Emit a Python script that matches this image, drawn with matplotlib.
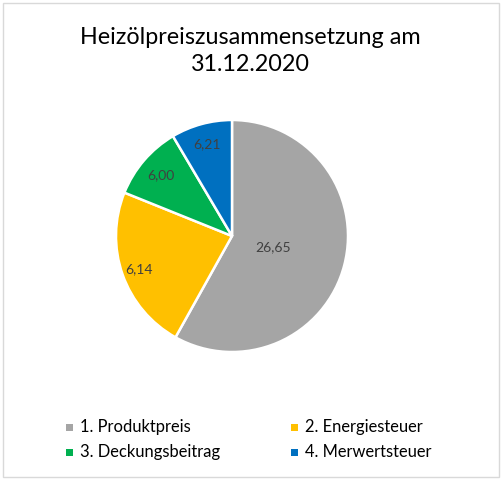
import matplotlib
matplotlib.use("Agg")
import matplotlib.pyplot as plt
import numpy as np
from matplotlib.patches import Rectangle

title = "Heizölpreiszusammensetzung am\n31.12.2020"
categories = ["1. Produktpreis", "2. Energiesteuer", "3. Deckungsbeitrag", "4. Merwertsteuer"]
# slice shares as drawn in the reference (percent of the circle)
slice_shares = [58.1, 23.0, 10.4, 8.5]
# data labels as printed in the reference
value_labels = ["26,65", "6,14", "6,00", "6,21"]
colors = ["#A5A5A5", "#FFC000", "#00B050", "#0070C0"]
label_radius = [0.37, 0.85, 0.81, 0.82]

plt.rcParams['font.family'] = ['Lato', 'DejaVu Sans']

W, H = 503, 480
fig = plt.figure(figsize=(W / 100, H / 100), dpi=100)
fig.patch.set_facecolor("white")

# border
fig.patches.append(Rectangle((2.5 / W, 1 - 476.5 / H), (499 - 2.5) / W, (476.5 - 2.5) / H,
                             transform=fig.transFigure, fill=False, edgecolor="#D9D9D9", linewidth=1.0))

fig.text(250 / W, 1 - 51 / H, title, ha="center", va="center", fontsize=16.8,
         color="#000000", linespacing=1.3)

cx, cy, r = 232, 236, 116
ax = fig.add_axes([(cx - r) / W, 1 - (cy + r) / H, 2 * r / W, 2 * r / H])
wedges, _ = ax.pie(slice_shares, colors=colors, startangle=90, counterclock=False,
                   wedgeprops=dict(edgecolor="white", linewidth=1.8), radius=1.0)
ax.set_xlim(-1, 1)
ax.set_ylim(-1, 1)
ax.set_aspect("equal")
ax.axis("off")

for w, lab, rr in zip(wedges, value_labels, label_radius):
    ang = np.deg2rad((w.theta1 + w.theta2) / 2)
    ax.text(rr * np.cos(ang), rr * np.sin(ang), lab, ha="center", va="center",
            fontsize=10, color="#404040")

# legend
leg_x = [69.5, 294.5]
leg_y = [427, 452]
for i, (cat, col) in enumerate(zip(categories, colors)):
    x = leg_x[i % 2]
    y = leg_y[i // 2]
    fig.patches.append(Rectangle(((x - 3.5) / W, 1 - (y + 3.5) / H), 7 / W, 7 / H,
                                 transform=fig.transFigure, facecolor=col, edgecolor="none"))
    fig.text((x + 10.5) / W, 1 - y / H, cat, ha="left", va="center", fontsize=11.9, color="#000000")

fig.savefig("out.png", dpi=100, facecolor="white")
